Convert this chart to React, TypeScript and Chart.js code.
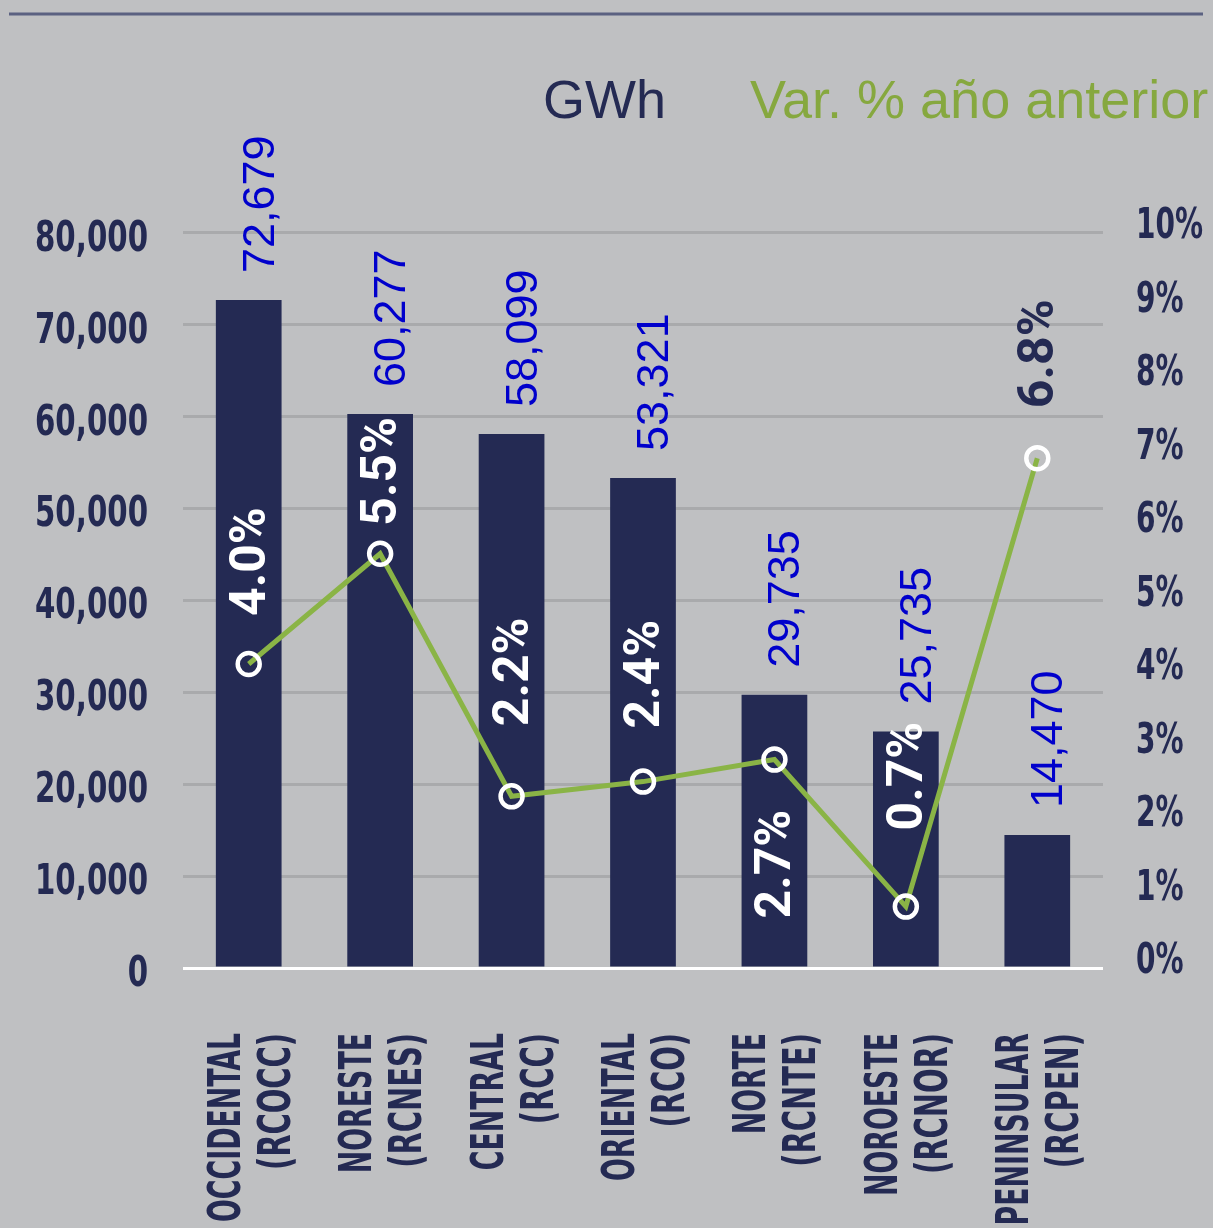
import React, { useEffect, useRef } from 'react';
import { Chart, registerables } from 'chart.js';
Chart.register(...registerables);

const regions = ['OCCIDENTAL', 'NORESTE', 'CENTRAL', 'ORIENTAL', 'NORTE', 'NOROESTE', 'PENINSULAR'];
const codes = ['(RCOCC)', '(RCNES)', '(RCC)', '(RCO)', '(RCNTE)', '(RCNOR)', '(RCPEN)'];
const gwh = [72679, 60277, 58099, 53321, 29735, 25735, 14470];
const varPct = [4.0, 5.5, 2.2, 2.4, 2.7, 0.7, 6.8];
const leftTicks = [0, 10000, 20000, 30000, 40000, 50000, 60000, 70000, 80000];
const rightTicks = [0, 1, 2, 3, 4, 5, 6, 7, 8, 9, 10];
const titleLeft = 'GWh';
const titleRight = 'Var. % año anterior';

// label placement (style only)
const pctLabelOffsets = [-48, -28, -70, -53, 159, -76, -50];
const pctLabelColors = ['#ffffff', '#ffffff', '#ffffff', '#ffffff', '#ffffff', '#ffffff', '#242a53'];

const NAVY = '#242a53';
const GREEN = '#8ab446';
const BG = '#bfc0c2';
const GRID = '#a9aaac';
const BLUE = '#0000cc';
const NARROW = '"Liberation Sans Narrow", "DejaVu Sans Condensed", sans-serif';

function fitScale(ctx: CanvasRenderingContext2D, sample: string, target: number) {
  return target / ctx.measureText(sample).width;
}

const drawPlugin = {
  id: 'custom',
  beforeDraw(chart: any) {
    const ctx = chart.ctx;
    ctx.save();
    ctx.fillStyle = BG;
    ctx.fillRect(0, 0, chart.width, chart.height);
    ctx.strokeStyle = '#5b6181';
    ctx.lineWidth = 3;
    ctx.beginPath();
    ctx.moveTo(9, 14);
    ctx.lineTo(1203, 14);
    ctx.stroke();
    ctx.font = '54px "Liberation Sans", Arial, sans-serif';
    ctx.textBaseline = 'alphabetic';
    ctx.textAlign = 'left';
    ctx.fillStyle = NAVY;
    ctx.fillText(titleLeft, 543, 118);
    ctx.fillStyle = '#86a83f';
    ctx.fillText(titleRight, 750, 118);
    ctx.restore();
  },
  afterDatasetsDraw(chart: any) {
    const ctx = chart.ctx;
    const xs = chart.scales.x;
    const yl = chart.scales.y;
    const yr = chart.scales.y1;
    const barMeta = chart.getDatasetMeta(0);
    const lineMeta = chart.getDatasetMeta(1);
    ctx.save();
    ctx.textBaseline = 'alphabetic';

    // left axis tick labels
    ctx.fillStyle = NAVY;
    ctx.font = 'bold 43px ' + NARROW;
    const sl = fitScale(ctx, '80,000', 113);
    ctx.textAlign = 'right';
    leftTicks.forEach((v) => {
      ctx.save();
      ctx.translate(148, yl.getPixelForValue(v) + 18);
      ctx.scale(sl, 1);
      ctx.fillText(v.toLocaleString('en-US'), 0, 0);
      ctx.restore();
    });
    // right axis tick labels
    ctx.font = 'bold 42px ' + NARROW;
    const sr = fitScale(ctx, '10%', 67);
    ctx.textAlign = 'left';
    rightTicks.forEach((v) => {
      ctx.save();
      ctx.translate(1136, yr.getPixelForValue(v) + 15);
      ctx.scale(sr, 1);
      ctx.fillText(v + '%', 0, 0);
      ctx.restore();
    });

    // bar value labels
    ctx.font = '45px "Liberation Sans", Arial, sans-serif';
    ctx.fillStyle = BLUE;
    ctx.textAlign = 'left';
    barMeta.data.forEach((bar: any, i: number) => {
      ctx.save();
      ctx.translate(bar.x + 25, bar.y - 27);
      ctx.rotate(-Math.PI / 2);
      ctx.fillText(gwh[i].toLocaleString('en-US'), 0, 0);
      ctx.restore();
    });
    // percentage labels
    ctx.font = 'bold 50px Roboto, "Liberation Sans", sans-serif';
    lineMeta.data.forEach((pt: any, i: number) => {
      ctx.save();
      ctx.fillStyle = pctLabelColors[i];
      ctx.translate(pt.x + 16, pt.y + pctLabelOffsets[i]);
      ctx.rotate(-Math.PI / 2);
      ctx.fillText(varPct[i].toFixed(1) + '%', 0, 0);
      ctx.restore();
    });
    // category labels
    ctx.fillStyle = NAVY;
    ctx.font = 'bold 44px ' + NARROW;
    const sx = fitScale(ctx, 'OCCIDENTAL', 189);
    ctx.font = 'bold 45px ' + NARROW;
    const sc = fitScale(ctx, '(RCOCC)', 137);
    ctx.textAlign = 'right';
    regions.forEach((r, i) => {
      const x = xs.getPixelForValue(i);
      ctx.save();
      ctx.font = 'bold 44px ' + NARROW;
      ctx.translate(x - 9, 1033);
      ctx.rotate(-Math.PI / 2);
      ctx.scale(sx, 1);
      ctx.fillText(r, 0, 0);
      ctx.restore();
      ctx.save();
      ctx.font = 'bold 45px ' + NARROW;
      ctx.translate(x + 41, 1033);
      ctx.rotate(-Math.PI / 2);
      ctx.scale(sc, 1);
      ctx.fillText(codes[i], 0, 0);
      ctx.restore();
    });
    ctx.restore();
  },
};

export default function App() {
  const ref = useRef<HTMLCanvasElement | null>(null);
  useEffect(() => {
    document.body.style.margin = '0';
    document.body.style.background = BG;
    const canvas = ref.current!;
    const chart = new Chart(canvas, {
      type: 'bar',
      data: {
        labels: regions,
        datasets: [
          {
            type: 'bar',
            data: gwh,
            backgroundColor: NAVY,
            yAxisID: 'y',
            barPercentage: 0.5,
            categoryPercentage: 1,
            order: 2,
          } as any,
          {
            type: 'line',
            data: varPct,
            yAxisID: 'y1',
            borderColor: GREEN,
            borderWidth: 5,
            pointRadius: 11,
            pointBorderWidth: 4.5,
            pointBorderColor: '#ffffff',
            pointBackgroundColor: 'rgba(0,0,0,0)',
            tension: 0,
            order: 1,
          } as any,
        ],
      },
      options: {
        responsive: false,
        animation: false,
        layout: { padding: { top: 200, left: 0, right: 0, bottom: 0 } },
        plugins: { legend: { display: false }, tooltip: { enabled: false }, title: { display: false } },
        scales: {
          x: {
            grid: { display: false },
            border: { display: false },
            ticks: { display: false },
            afterFit: (s: any) => { s.height = 260; },
          },
          y: {
            position: 'left',
            min: 0,
            max: 83569,
            afterBuildTicks: (s: any) => { s.ticks = leftTicks.map((v) => ({ value: v })); },
            afterFit: (s: any) => { s.width = 183; },
            grid: {
              color: (c: any) => (c.tick && c.tick.value === 0 ? '#ffffff' : GRID),
              lineWidth: 3,
              drawTicks: false,
            },
            border: { display: false },
            ticks: { display: false },
          },
          y1: {
            position: 'right',
            min: -0.136,
            max: 10.313,
            afterBuildTicks: (s: any) => { s.ticks = rightTicks.map((v) => ({ value: v })); },
            afterFit: (s: any) => { s.width = 110; },
            grid: { display: false, drawTicks: false },
            border: { display: false },
            ticks: { display: false },
          },
        },
      } as any,
      plugins: [drawPlugin],
    });
    return () => chart.destroy();
  }, []);
  return (
    <div style={{ width: 1213, height: 1228, background: BG }}>
      <canvas ref={ref} width={1213} height={1228} style={{ display: 'block' }} />
    </div>
  );
}
